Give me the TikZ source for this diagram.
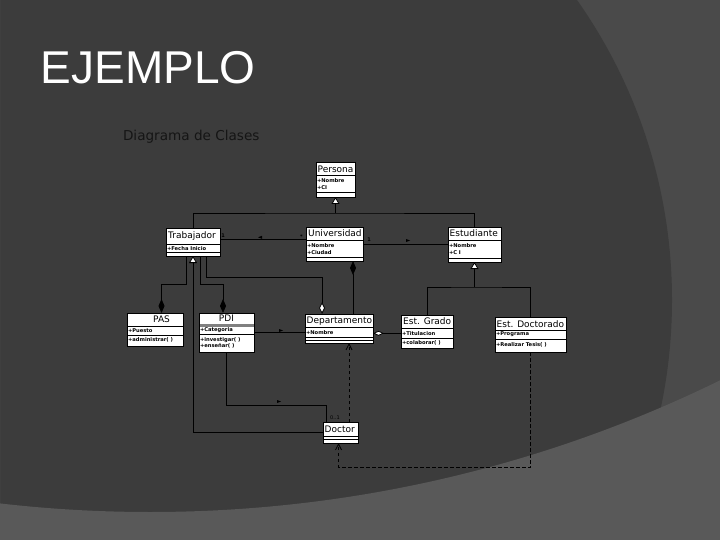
\documentclass[tikz,border=0pt]{standalone}
\usepackage{fontspec}
\setmainfont{DejaVu Sans}
\newfontfamily\titlefont{Liberation Sans}
\usetikzlibrary{arrows.meta}

\definecolor{bgdark}{HTML}{3C3C3C}
\definecolor{bgmid}{HTML}{4A4A4A}
\definecolor{bgband}{HTML}{595959}
\definecolor{subtxt}{HTML}{151515}

\tikzset{
  umlbox/.style={draw=black, fill=white, line width=0.9pt, inner sep=0pt, outer sep=0pt, anchor=north west},
  ctitle/.style={anchor=west, inner sep=0pt, text=black, font=\fontsize{9}{9}\selectfont},
  cattr/.style={anchor=west, inner sep=0pt, text=black, font=\bfseries\fontsize{5.2}{5.2}\selectfont},
  mult/.style={inner sep=0pt, text=black, font=\bfseries\fontsize{5}{5}\selectfont},
  conn/.style={draw=black, line width=0.8pt},
  dep/.style={conn, dash pattern=on 3.5pt off 2.5pt},
  gen/.style={-{Triangle[open, fill=white, length=7pt, width=8pt]}},
  comp/.style={{Diamond[length=14pt, width=6pt]}-},
  aggr/.style={{Diamond[open, fill=white, length=12pt, width=6pt]}-},
  vee/.style={-{Straight Barb[length=6pt, width=6pt]}},
}

\newcommand\umlcls[7]{%
  \node[umlbox, minimum width={#4-#2}, minimum height={#5-#3}] (#1) at (#2,#3) {};
  \draw[line width=0.7pt] (#2,#6) -- (#4,#6) (#2,#7) -- (#4,#7);
}

\begin{document}
\begin{tikzpicture}[x=1pt, y=-1pt]
\useasboundingbox (0,0) rectangle (720,540);
% background
\begin{scope}
  \clip (0,0) rectangle (720,540);
  \fill[bgmid] (0,0) rectangle (720,540);
  \fill[bgdark] (151,300) circle (521pt);
  \fill[bgband, even odd rule] (0,0) rectangle (720,540) (150,-785) circle (1297pt);
\end{scope}

% titles
\node[anchor=base west, inner sep=0pt, text=white, font=\titlefont\fontsize{46}{46}\selectfont] (ttl) at (40.5,84) {EJEMPLO};
\node[anchor=base west, inner sep=0pt, text=subtxt, font=\fontsize{13.6}{14}\selectfont] (sub) at (122.8,141) {Diagrama de Clases};

% classes
\umlcls{persona}{316}{162}{355}{197}{175.5}{192}
\node[ctitle] (persona-t) at (317.5,169) {Persona};
\node[cattr] (persona-a1) at (316.8,181) {+Nombre};
\node[cattr] (persona-a2) at (316.8,187.5) {+CI};

\umlcls{trab}{166}{228}{220}{256}{244}{252.5}
\node[ctitle] (trab-t) at (168,236.5) {Trabajador};
\node[cattr] (trab-a1) at (166.8,248.3) {+Fecha Inicio};

\umlcls{univ}{306}{227}{363}{261}{240}{257}
\node[ctitle] (univ-t) at (308,233.5) {Universidad};
\node[cattr] (univ-a1) at (306.8,246) {+Nombre};
\node[cattr] (univ-a2) at (306.8,252.5) {+Ciudad};

\umlcls{est}{448}{227}{501}{262}{240}{258}
\node[ctitle] (est-t) at (449.5,233.5) {Estudiante};
\node[cattr] (est-a1) at (448.8,246) {+Nombre};
\node[cattr] (est-a2) at (448.8,252.5) {+C I};

\umlcls{pas}{127}{313}{183}{346}{326}{335}
\node[ctitle, anchor=center] (pas-t) at (161.5,319.5) {PAS};
\node[cattr] (pas-a1) at (127.8,330.5) {+Puesto};
\node[cattr] (pas-o1) at (127.8,340) {+administrar( )};

\umlcls{pdi}{199}{313}{254}{352}{324}{334.5}
\fill[gray] (199.5,324) rectangle (253.5,326.5);
\node[ctitle, anchor=center] (pdi-t) at (226.5,318.5) {PDI};
\node[cattr] (pdi-a1) at (199.8,330) {+Categoria};
\node[cattr] (pdi-o1) at (199.8,340) {+investigar( )};
\node[cattr] (pdi-o2) at (199.8,345.7) {+enseñar( )};

\umlcls{dept}{305}{314}{373}{343}{327.5}{337.5}
\draw[line width=0.6pt] (305,340.2) -- (373,340.2);
\node[ctitle] (dept-t) at (306.5,321) {Departamento};
\node[cattr] (dept-a1) at (305.8,333) {+Nombre};

\umlcls{grado}{401}{315}{453}{348}{328.3}{338.3}
\node[ctitle] (grado-t) at (403,321.5) {Est. Grado};
\node[cattr] (grado-a1) at (401.8,333.3) {+Titulacion};
\node[cattr] (grado-o1) at (401.8,343) {+colaborar( )};

\umlcls{doct}{495}{317}{566}{352}{330.5}{339}
\node[ctitle] (doct-t) at (496.5,324) {Est. Doctorado};
\node[cattr] (doct-a1) at (495.8,334.5) {+Programa};
\node[cattr] (doct-o1) at (495.8,345.3) {+Realizar Tesis( )};

\umlcls{doctor}{323}{422}{358}{443}{436}{439.5}
\node[ctitle] (doctor-t) at (324.5,429) {Doctor};

% generalization to Persona
\coordinate (jp) at (335.5,213);
\draw[conn] (trab.north) |- (jp) -| (est.north);
\draw[conn, gen] (jp) -- (persona.south);

% Trabajador -- Universidad
\draw[conn] ([yshift=3pt]trab.east) -- ([yshift=5pt]univ.west);
\node[mult] (m1) at (223,236) {1};
\node[mult] (m2) at (301.5,236.5) {*};
\fill[black] (258,237.3) -- (262,235.8) -- (262,238.8) -- cycle;

% Universidad -- Estudiante
\draw[conn] (univ.east) -- (est.west |- univ.east);
\node[mult] (m3) at (369,239.5) {1};
\fill[black] (410,240.5) -- (406,239) -- (406,242) -- cycle;

% Universidad composition Departamento
\draw[conn, comp] ([xshift=18.5pt]univ.south) -- ([xshift=14pt]dept.north);

% Trabajador -- PAS / PDI / Departamento
\draw[conn, comp] ([xshift=6.5pt]pas.north) -- ++(0,-29) -| ([xshift=-7pt]trab.south);
\draw[conn, comp] ([xshift=-3.5pt]pdi.north) -- ++(0,-29) -| ([xshift=7pt]trab.south);
\draw[conn, aggr] ([xshift=-17pt]dept.north) -- ++(0,-37) -| ([xshift=13pt]trab.south);

% Doctor generalization to Trabajador
\draw[conn, gen] (doctor.west) -| (trab.south);

% PDI -- Departamento
\draw[conn] (pdi.east) -- (dept.west |- pdi.east);
\fill[black] (283,330.5) -- (279,329) -- (279,332) -- cycle;

% PDI -- Doctor
\draw[conn] (pdi.south) -- ++(0,53) -| ([xshift=-14.5pt]doctor.north);
\fill[black] (281,401.5) -- (277,400) -- (277,403) -- cycle;
\node[mult, font=\fontsize{5}{5}\selectfont] (m4) at (335,417.5) {0..1};

% Departamento aggregation Est. Grado
\coordinate (dg) at ([yshift=-4.8pt]dept.east);
\draw[conn, {Diamond[open, fill=white, length=11pt, width=5pt]}-] (dg) -- (grado.west |- dg);

% generalization to Estudiante
\coordinate (je) at (474.5,287);
\draw[conn, gen] (je) -- (est.south);
\draw[conn] (grado.north) |- (je) -| (doct.north);

% dependencies
\draw[dep, vee] ([xshift=8.5pt]doctor.north) -- ([xshift=10pt]dept.south);
\draw[dep, vee] (doct.south) -- ++(0,115) -| ([xshift=-2pt]doctor.south);
\end{tikzpicture}
\end{document}
